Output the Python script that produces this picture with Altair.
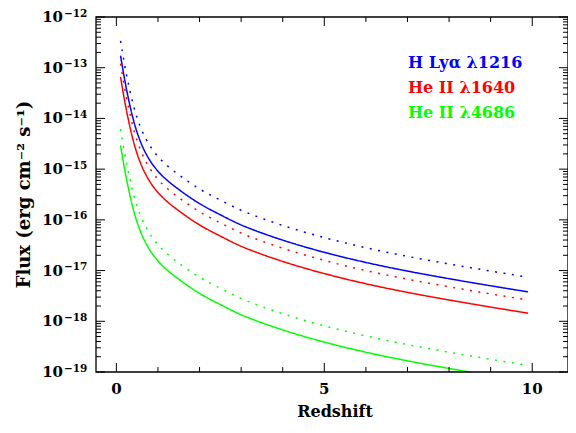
import altair as alt
import pandas as pd

# ---- data (log10 of flux, erg cm^-2 s^-1) ----
z_grid = [0.1, 0.2, 0.3, 0.4, 0.5, 0.6, 0.8, 1.0, 1.25, 1.5, 2.0, 2.5, 3.0, 3.5, 4.0,
          5.0, 6.0, 7.0, 8.0, 9.0, 9.9]
lya_solid = [-12.76, -13.24, -13.65, -14.00, -14.28, -14.50, -14.82, -15.04, -15.24, -15.40,
             -15.68, -15.90, -16.10, -16.26, -16.40, -16.64, -16.84, -17.01, -17.16, -17.30, -17.42]
lya_dotted = [-12.47, -12.95, -13.36, -13.71, -13.99, -14.21, -14.53, -14.75, -14.95, -15.11,
              -15.39, -15.61, -15.81, -15.97, -16.11, -16.35, -16.55, -16.72, -16.87, -17.01, -17.13]
he1640_solid = [-13.18, -13.66, -14.07, -14.42, -14.70, -14.92, -15.24, -15.46, -15.66, -15.82,
                -16.10, -16.32, -16.52, -16.68, -16.82, -17.06, -17.26, -17.43, -17.58, -17.72, -17.84]
he1640_dotted = [-12.92, -13.40, -13.81, -14.16, -14.44, -14.66, -14.98, -15.20, -15.40, -15.56,
                 -15.84, -16.06, -16.26, -16.42, -16.56, -16.80, -17.00, -17.17, -17.32, -17.46, -17.58]
he4686_solid = [-14.53, -15.01, -15.42, -15.77, -16.05, -16.27, -16.59, -16.81, -17.01, -17.17,
                -17.45, -17.67, -17.87, -18.03, -18.17, -18.41, -18.61, -18.78, -18.93, -19.07, -19.19]
he4686_dotted = [-14.21, -14.69, -15.10, -15.45, -15.73, -15.95, -16.27, -16.49, -16.69, -16.85,
                 -17.13, -17.35, -17.55, -17.71, -17.85, -18.09, -18.29, -18.46, -18.61, -18.75, -18.87]

series_labels = ["H Lyα λ1216", "He II λ1640", "He II λ4686"]
series_colors = ["#0000ff", "#ff0000", "#00ff00"]

y_decades = [-19, -18, -17, -16, -15, -14, -13, -12]
y_exp_text = ["−19", "−18", "−17", "−16", "−15", "−14", "−13", "−12"]
x_major = [0, 5, 10]
x_major_text = ["0", "5", "10"]
x_minor = [1, 2, 3, 4, 6, 7, 8, 9]

# ---- build tables ----
rows = []
for lab, style, vals in [
    (series_labels[0], "solid", lya_solid), (series_labels[0], "dotted", lya_dotted),
    (series_labels[1], "solid", he1640_solid), (series_labels[1], "dotted", he1640_dotted),
    (series_labels[2], "solid", he4686_solid), (series_labels[2], "dotted", he4686_dotted),
]:
    for z, v in zip(z_grid, vals):
        rows.append({"z": z, "flux": 10.0 ** v, "line": lab, "style": style, "key": lab + style})
df = pd.DataFrame(rows)

df_ymaj = pd.DataFrame({"v": [10.0 ** e for e in y_decades], "exp": y_exp_text, "base": ["10"] * 8})
df_ymin = pd.DataFrame({"v": [k * 10.0 ** e for e in y_decades[:-1] for k in range(2, 10)]})
df_xmaj = pd.DataFrame({"v": x_major, "t": x_major_text})
df_xmin = pd.DataFrame({"v": x_minor})
df_leg = pd.DataFrame({"line": series_labels, "row": [0, 1, 2]})

W, H = 472, 355
FONT = "DejaVu Serif"
xs = alt.Scale(domain=[-0.49, 10.86], nice=False, zero=False)
ys = alt.Scale(type="log", domain=[1e-19, 1e-12], nice=False)
cs = alt.Scale(domain=series_labels, range=series_colors)

lines = alt.Chart(df).mark_line(strokeWidth=1.5, clip=True, interpolate="monotone").encode(
    x=alt.X("z:Q", scale=xs, axis=None),
    y=alt.Y("flux:Q", scale=ys, axis=None),
    color=alt.Color("line:N", scale=cs, legend=None),
    strokeDash=alt.StrokeDash("style:N", scale=alt.Scale(domain=["solid", "dotted"],
                                                          range=[[1, 0], [2, 6.5]]), legend=None),
    detail="key:N",
)

frame = alt.Chart(pd.DataFrame({"a": [0]})).mark_rect(
    fillOpacity=0, stroke="black", strokeWidth=1.3).encode(
    x=alt.value(0), x2=alt.value(W), y=alt.value(0), y2=alt.value(H))

def yticks(data, length):
    left = alt.Chart(data).mark_rule(color="black", strokeWidth=1).encode(
        y=alt.Y("v:Q", scale=ys, axis=None), x=alt.value(0), x2=alt.value(length))
    right = alt.Chart(data).mark_rule(color="black", strokeWidth=1).encode(
        y=alt.Y("v:Q", scale=ys, axis=None), x=alt.value(W - length), x2=alt.value(W))
    return left + right

def xticks(data, length):
    bot = alt.Chart(data).mark_rule(color="black", strokeWidth=1).encode(
        x=alt.X("v:Q", scale=xs, axis=None), y=alt.value(H), y2=alt.value(H - length))
    top = alt.Chart(data).mark_rule(color="black", strokeWidth=1).encode(
        x=alt.X("v:Q", scale=xs, axis=None), y=alt.value(0), y2=alt.value(length))
    return bot + top

ylab_base = alt.Chart(df_ymaj).mark_text(font=FONT, fontSize=15, fontWeight="bold", align="right",
                                         baseline="middle", color="black").encode(
    y=alt.Y("v:Q", scale=ys, axis=None), x=alt.value(-33), text="base:N")
ylab_exp = alt.Chart(df_ymaj).mark_text(font=FONT, fontSize=10.5, fontWeight="bold", align="left",
                                        baseline="middle", dy=-3.5, color="black").encode(
    y=alt.Y("v:Q", scale=ys, axis=None), x=alt.value(-32), text="exp:N")

xlab = alt.Chart(df_xmaj).mark_text(font=FONT, fontSize=15, fontWeight="bold", align="center",
                                    baseline="middle", color="black").encode(
    x=alt.X("v:Q", scale=xs, axis=None), y=alt.value(H + 17), text="t:N")

xtitle = alt.Chart(pd.DataFrame({"t": ["Redshift"]})).mark_text(
    font=FONT, fontSize=16, fontWeight="bold", align="center", baseline="middle", color="black").encode(
    x=alt.value(239), y=alt.value(H + 40), text="t:N")

ytitle = alt.Chart(pd.DataFrame({"t": ["Flux (erg cm⁻² s⁻¹)"]})).mark_text(
    font=FONT, fontSize=18, fontWeight="bold", angle=270, align="center", baseline="middle",
    color="black").encode(x=alt.value(-71), y=alt.value(H / 2), text="t:N")

legend = alt.Chart(df_leg).mark_text(font=FONT, fontSize=16, fontWeight="bold", align="left",
                                     baseline="middle").encode(
    x=alt.value(312),
    y=alt.Y("row:Q", scale=alt.Scale(domain=[0, 2], range=[45.5, 95.5]), axis=None),
    text="line:N",
    color=alt.Color("line:N", scale=cs, legend=None),
)

chart = alt.layer(
    lines, frame, yticks(df_ymaj, 9), yticks(df_ymin, 5), xticks(df_xmaj, 9), xticks(df_xmin, 5),
    ylab_base, ylab_exp, xlab, xtitle, ytitle, legend,
).resolve_scale(y="independent").properties(
    width=W, height=H,
    autosize=alt.AutoSizeParams(type="none"),
    padding={"left": 88, "top": 9, "right": 0, "bottom": 48},
    background="white",
).configure_view(strokeWidth=0)

chart.save("out.html", embed_options={"renderer": "svg", "actions": False})
